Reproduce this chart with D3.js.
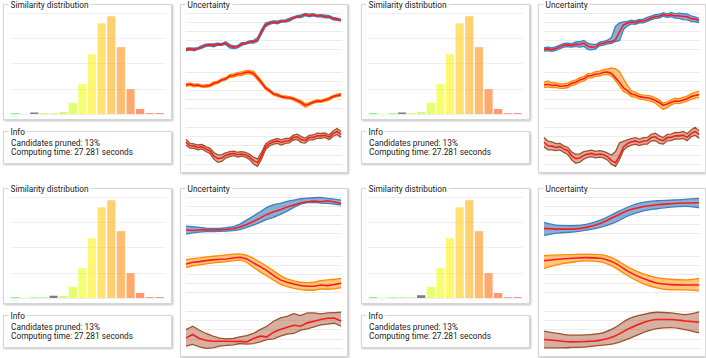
<!DOCTYPE html>
<html>
<head>
<meta charset="utf-8">
<script src="https://cdn.jsdelivr.net/npm/d3@7"></script>
<style>
  body { margin: 0; background: #fff; }
  svg { display: block; font-family: Roboto, "Liberation Sans", sans-serif; }
</style>
</head>
<body>
<svg id="chart" width="706" height="358"></svg>
<script>
// ---- histogram (share of candidates per similarity bin, %)
const simBins = d3.range(16);
const binShare = [0.2, 0, 0.15, 0.15, 0.15, 0.4, 2.2, 5.9, 11.8, 17.9, 19.3, 13.2, 4.9, 1.0, 0.15, 0.15];
const histTicks = [0, 5, 10, 15, 20];
// query bin (gray) per panel: TL, TR, BL, BR
const queryBin = [2, 3, 4, 5];
const queryShare = [0.3, 0.3, 0.45, 0.55];

const infoLines = ["Candidates pruned: 13%", "Computing time: 27.281 seconds"];
const seriesNames = ["blue", "orange", "brown"];
const gridTicks = [0, 1, 2, 3, 4];

// ---- noisy series (top panels share the mean)
const noisyBlueMean = [0,0.06,-0.02,0.1,0.28,0.46,0.5,0.45,0.58,0.55,0.7,0.35,0.25,0.3,0.6,0.68,0.82,0.86,1.08,1.96,2.72,2.92,3.04,2.98,3.14,3.16,3.3,3.5,3.66,3.68,3.88,3.76,3.84,3.72,3.74,3.66,3.64,3.42,3.36,3.24];
const noisyOrangeMean = [2.52,2.6,2.46,2.5,2.38,2.4,2.46,2.7,2.82,3.08,3.2,3.52,3.56,3.74,3.76,3.92,3.94,3.8,3.3,2.78,2.2,1.88,1.52,1.4,1.22,1.14,1.1,0.98,0.78,0.56,0.24,0.4,0.6,0.74,0.7,0.84,0.98,1.22,1.34,1.44];
const noisyBrownMean = [2.32,1.94,1.9,1.76,1.84,1.58,1.4,0.86,0.56,0.62,0.9,1.04,1.12,0.98,1.06,0.98,0.74,0.34,0.12,0.86,1.82,2.18,2.36,2.46,2.3,2.46,2.48,2.82,2.9,2.6,2.48,2.82,2.84,3.02,3.0,3.08,2.84,3.24,3.48,3.16];

// top-left: narrow symmetric spread
const tlBlueSpread = [0.15,0.12,0.15,0.1,0.15,0.12,0.1,0.15,0.12,0.1,0.15,0.18,0.15,0.12,0.15,0.1,0.12,0.15,0.2,0.25,0.2,0.15,0.12,0.15,0.1,0.12,0.15,0.12,0.1,0.15,0.12,0.15,0.12,0.1,0.12,0.15,0.12,0.15,0.12,0.1];
const tlOrangeSpread = [0.15,0.12,0.15,0.12,0.1,0.15,0.12,0.15,0.12,0.15,0.12,0.15,0.18,0.15,0.2,0.18,0.2,0.22,0.2,0.18,0.15,0.15,0.12,0.15,0.12,0.15,0.12,0.15,0.15,0.18,0.2,0.15,0.12,0.15,0.12,0.12,0.15,0.12,0.15,0.15];
const tlBrownSpread = [0.32,0.26,0.24,0.26,0.24,0.26,0.28,0.36,0.4,0.36,0.28,0.26,0.24,0.26,0.24,0.26,0.28,0.36,0.4,0.36,0.28,0.26,0.24,0.26,0.28,0.26,0.24,0.26,0.28,0.32,0.26,0.24,0.26,0.28,0.26,0.24,0.26,0.28,0.32,0.32];

// top-right: asymmetric, wider spread
const trBlueHi = [0.2,0.2,0.2,0.2,0.2,0.2,0.2,0.2,0.25,0.3,0.3,0.35,0.3,0.25,0.2,0.2,0.2,0.5,1.5,1.0,0.35,0.2,0.2,0.2,0.2,0.2,0.25,0.2,0.2,0.2,0.2,0.2,0.25,0.25,0.3,0.3,0.3,0.3,0.25,0.2];
const trBlueLo = [0.2,0.2,0.2,0.2,0.2,0.2,0.2,0.2,0.25,0.3,0.35,0.35,0.3,0.25,0.2,0.2,0.2,0.2,0.2,1.0,0.5,0.3,0.2,0.2,0.2,0.2,0.2,0.2,0.2,0.2,0.2,0.2,0.2,0.25,0.3,0.35,0.35,0.3,0.3,0.25];
const trOrangeHi = [0.3,0.35,0.3,0.25,0.25,0.25,0.25,0.25,0.25,0.25,0.25,0.25,0.25,0.25,0.3,0.3,0.35,0.6,1.0,1.2,1.0,0.6,0.35,0.3,0.25,0.25,0.25,0.3,0.3,0.3,0.25,0.25,0.25,0.3,0.3,0.3,0.3,0.3,0.35,0.35];
const trOrangeLo = [0.3,0.3,0.25,0.25,0.25,0.25,0.25,0.25,0.25,0.25,0.25,0.25,0.25,0.25,0.25,0.25,0.25,0.3,0.3,0.4,0.4,0.3,0.3,0.25,0.25,0.25,0.3,0.3,0.3,0.4,0.45,0.4,0.3,0.25,0.25,0.25,0.25,0.3,0.3,0.3];
const trBrownHi = [0.5,0.5,0.45,0.4,0.35,0.35,0.35,0.4,0.45,0.45,0.4,0.35,0.35,0.35,0.35,0.35,0.4,0.6,1.2,1.4,0.6,0.4,0.35,0.35,0.35,0.35,0.35,0.35,0.4,0.4,0.35,0.35,0.35,0.35,0.35,0.4,0.4,0.4,0.45,0.4];
const trBrownLo = [0.5,0.45,0.4,0.35,0.35,0.35,0.4,0.45,0.5,0.45,0.4,0.35,0.35,0.35,0.35,0.35,0.35,0.4,0.4,0.4,0.35,0.35,0.35,0.35,0.35,0.35,0.35,0.35,0.4,0.4,0.35,0.35,0.35,0.35,0.35,0.35,0.35,0.35,0.4,0.4];

// bottom-left: smoothed
const blBlueMean = [0.37,0.33,0.37,0.4,0.37,0.41,0.44,0.52,0.7,1.0,1.33,1.7,2.11,2.41,2.63,2.93,3.15,3.37,3.52,3.59,3.52,3.63,3.48,3.33];
const blBlueHi = [0.81,0.74,0.67,0.59,0.56,0.56,0.63,0.74,1.04,1.48,1.93,2.41,2.89,3.19,3.33,3.56,3.7,3.85,3.93,3.96,4.0,3.89,3.81,3.7];
const blBlueLo = [-0.07,0.07,0.15,0.19,0.19,0.22,0.26,0.3,0.41,0.67,0.93,1.22,1.56,1.78,2.11,2.48,2.89,3.26,3.41,3.44,3.37,3.33,3.26,3.15];
const blOrangeMean = [3.07,3.26,3.33,3.44,3.52,3.59,3.63,3.74,3.81,3.63,3.19,2.78,2.33,1.78,1.3,1.04,0.85,0.67,0.59,0.59,0.74,0.67,0.78,0.93];
const blOrangeHi = [3.56,3.67,3.74,3.85,3.93,4.0,4.07,4.15,4.19,4.04,3.7,3.26,2.81,2.3,1.78,1.41,1.19,1.04,1.0,1.04,1.22,1.3,1.37,1.48];
const blOrangeLo = [2.67,2.85,2.96,3.07,3.19,3.26,3.33,3.41,3.52,3.26,2.7,2.19,1.74,1.26,0.81,0.56,0.37,0.22,0.15,0.15,0.3,0.26,0.3,0.44];
const blBrownMean = [1.07,1.43,1.0,0.79,0.71,0.71,0.71,0.68,0.71,0.64,1.0,1.25,1.18,1.68,1.96,2.21,2.43,2.32,2.68,2.86,3.04,3.18,3.21,2.89];
const blBrownHi = [1.96,2.32,1.89,1.54,1.25,1.04,0.96,1.0,1.18,1.32,1.54,1.96,2.32,2.86,3.21,3.39,3.68,3.46,3.75,3.75,3.64,3.75,3.79,3.82];
const blBrownLo = [0.18,0.36,0.11,-0.07,0,0.18,0.25,0.32,0.46,0.39,0.46,0.64,0.89,0.96,1.25,1.46,1.54,1.89,2.04,2.25,2.46,2.54,2.64,2.32];

// bottom-right: very smooth
const brBlueMean = [0.56,0.48,0.48,0.67,1.11,1.85,2.56,2.96,3.19,3.3,3.37,3.41];
const brBlueHi = [1.22,0.89,0.85,1.0,1.48,2.22,2.96,3.44,3.63,3.7,3.78,3.89];
const brBlueLo = [-0.22,0.04,0.15,0.37,0.67,1.19,1.96,2.48,2.74,2.93,3.0,2.85];
const brOrangeMean = [3.44,3.59,3.7,3.78,3.7,3.19,2.22,1.48,0.96,0.78,0.74,0.74];
const brOrangeHi = [4.0,4.07,4.11,4.15,4.11,3.63,2.7,2.0,1.56,1.37,1.3,1.48];
const brOrangeLo = [2.59,3.0,3.26,3.41,3.3,2.7,1.7,0.89,0.41,0.19,0.19,0.07];
const brBrownMean = [0.89,0.75,0.64,0.68,0.82,1.25,2.04,2.68,3.04,3.04,2.89,2.75];
const brBrownHi = [1.79,1.54,1.36,1.39,1.54,2.14,3.11,3.57,3.82,3.75,3.57,3.86];
const brBrownLo = [0,0,0.04,0.11,0.25,0.46,0.96,1.61,2.07,2.18,1.96,1.61];

// ---- build series tables
const sym = (mean, spread) => mean.map((m, i) => ({ m, lo: m - spread[i], hi: m + spread[i] }));
const off = (mean, hi, lo) => mean.map((m, i) => ({ m, lo: m - lo[i], hi: m + hi[i] }));
const abs = (mean, hi, lo) => mean.map((m, i) => ({ m, lo: lo[i], hi: hi[i] }));

const panels = [
  { x: 0, y: 0, curve: d3.curveLinear,
    series: [sym(noisyBlueMean, tlBlueSpread), sym(noisyOrangeMean, tlOrangeSpread), sym(noisyBrownMean, tlBrownSpread)] },
  { x: 358, y: 0, curve: d3.curveLinear,
    series: [off(noisyBlueMean, trBlueHi, trBlueLo), off(noisyOrangeMean, trOrangeHi, trOrangeLo), off(noisyBrownMean, trBrownHi, trBrownLo)] },
  { x: 0, y: 184, curve: d3.curveLinear,
    series: [abs(blBlueMean, blBlueHi, blBlueLo), abs(blOrangeMean, blOrangeHi, blOrangeLo), abs(blBrownMean, blBrownHi, blBrownLo)] },
  { x: 358, y: 184, curve: d3.curveMonotoneX,
    series: [abs(brBlueMean, brBlueHi, brBlueLo), abs(brOrangeMean, brOrangeHi, brOrangeLo), abs(brBrownMean, brBrownHi, brBrownLo)] }
];

const colors = { blue: "#3f7fbf", orange: "#ff8c00", brown: "#a0522d" };
const fillOpacity = { blue: 0.62, orange: 0.5, brown: 0.45 };

const svg = d3.select("#chart");
svg.append("defs").append("filter")
    .attr("id", "shadow").attr("x", "-5%").attr("y", "-5%").attr("width", "110%").attr("height", "110%")
  .append("feDropShadow")
    .attr("dx", 1).attr("dy", 1).attr("stdDeviation", 0.8)
    .attr("flood-color", "#000").attr("flood-opacity", 0.25);

function frame(g, x, y, w, h, title) {
  g.append("rect")
    .attr("x", x).attr("y", y).attr("width", w).attr("height", h)
    .attr("fill", "#fff").attr("stroke", "#d6d6d6").attr("stroke-width", 1)
    .attr("filter", "url(#shadow)");
  const bg = g.append("rect").attr("fill", "#fff");
  const t = g.append("text")
    .attr("x", x + 7).attr("y", y + 3)
    .attr("font-size", "8.3px").attr("fill", "#222")
    .text(title);
  const len = t.node().getComputedTextLength();
  bg.attr("x", x + 5).attr("y", y - 2).attr("width", len + 4).attr("height", 4);
}

panels.forEach((p, pi) => {
  const g = svg.append("g").attr("transform", `translate(${p.x},${p.y})`);

  // --- similarity distribution
  frame(g, 3.5, 4.5, 168, 115, "Similarity distribution");
  const xb = d3.scaleBand().domain(simBins).range([10.5, 164]).paddingInner(0.15).paddingOuter(0.05);
  const yb = d3.scaleLinear().domain([0, 20]).range([114, 12.7]);
  g.append("g").selectAll("line").data(histTicks).join("line")
    .attr("x1", 10).attr("x2", 165)
    .attr("y1", d => Math.round(yb(d)) + 0.5).attr("y2", d => Math.round(yb(d)) + 0.5)
    .attr("stroke", "#efefef");
  const hue = d3.scaleLinear().domain([0, simBins.length - 1]).range([120, 0]);
  g.append("g").selectAll("rect").data(simBins).join("rect")
    .attr("x", d => xb(d))
    .attr("width", xb.bandwidth())
    .attr("y", d => yb(d === queryBin[pi] ? queryShare[pi] : binShare[d]))
    .attr("height", d => yb(0) - yb(d === queryBin[pi] ? queryShare[pi] : binShare[d]))
    .attr("fill", d => d === queryBin[pi] ? "#555" : d3.hsl(hue(d), 1, 0.55).formatHex())
    .attr("fill-opacity", d => d === queryBin[pi] ? 0.75 : 0.62);

  // --- info
  frame(g, 3.5, 131.5, 168, 32, "Info");
  g.append("g").selectAll("text").data(infoLines).join("text")
    .attr("x", 11).attr("y", (d, i) => 146 + i * 9)
    .attr("font-size", "8.3px").attr("fill", "#222")
    .text(d => d);

  // --- uncertainty
  frame(g, 180.5, 4.5, 167, 168, "Uncertainty");
  const bases = [49.4, 107.6, 163.8];
  const steps = [9, 9, 9.3];
  p.series.forEach((s, si) => {
    const name = seriesNames[si];
    const xs = d3.scaleLinear().domain([0, s.length - 1]).range([186, 341]);
    const ys = d3.scaleLinear().domain([0, 4]).range([bases[si], bases[si] - 4 * steps[si]]);
    const cg = g.append("g");
    cg.selectAll("line").data(gridTicks).join("line")
      .attr("x1", 186).attr("x2", 342)
      .attr("y1", d => Math.round(ys(d)) + 0.5).attr("y2", d => Math.round(ys(d)) + 0.5)
      .attr("stroke", "#ececec");
    cg.append("path").datum(s)
      .attr("d", d3.area().x((d, i) => xs(i)).y0(d => ys(d.lo)).y1(d => ys(d.hi)).curve(p.curve))
      .attr("fill", colors[name]).attr("fill-opacity", fillOpacity[name]);
    ["lo", "hi"].forEach(k => {
      cg.append("path").datum(s)
        .attr("d", d3.line().x((d, i) => xs(i)).y(d => ys(d[k])).curve(p.curve))
        .attr("fill", "none").attr("stroke", colors[name]).attr("stroke-width", 1.3);
    });
    cg.append("path").datum(s)
      .attr("d", d3.line().x((d, i) => xs(i)).y(d => ys(d.m)).curve(p.curve))
      .attr("fill", "none").attr("stroke", "#ff1a1a").attr("stroke-width", 1.6);
  });
});
</script>
</body>
</html>
